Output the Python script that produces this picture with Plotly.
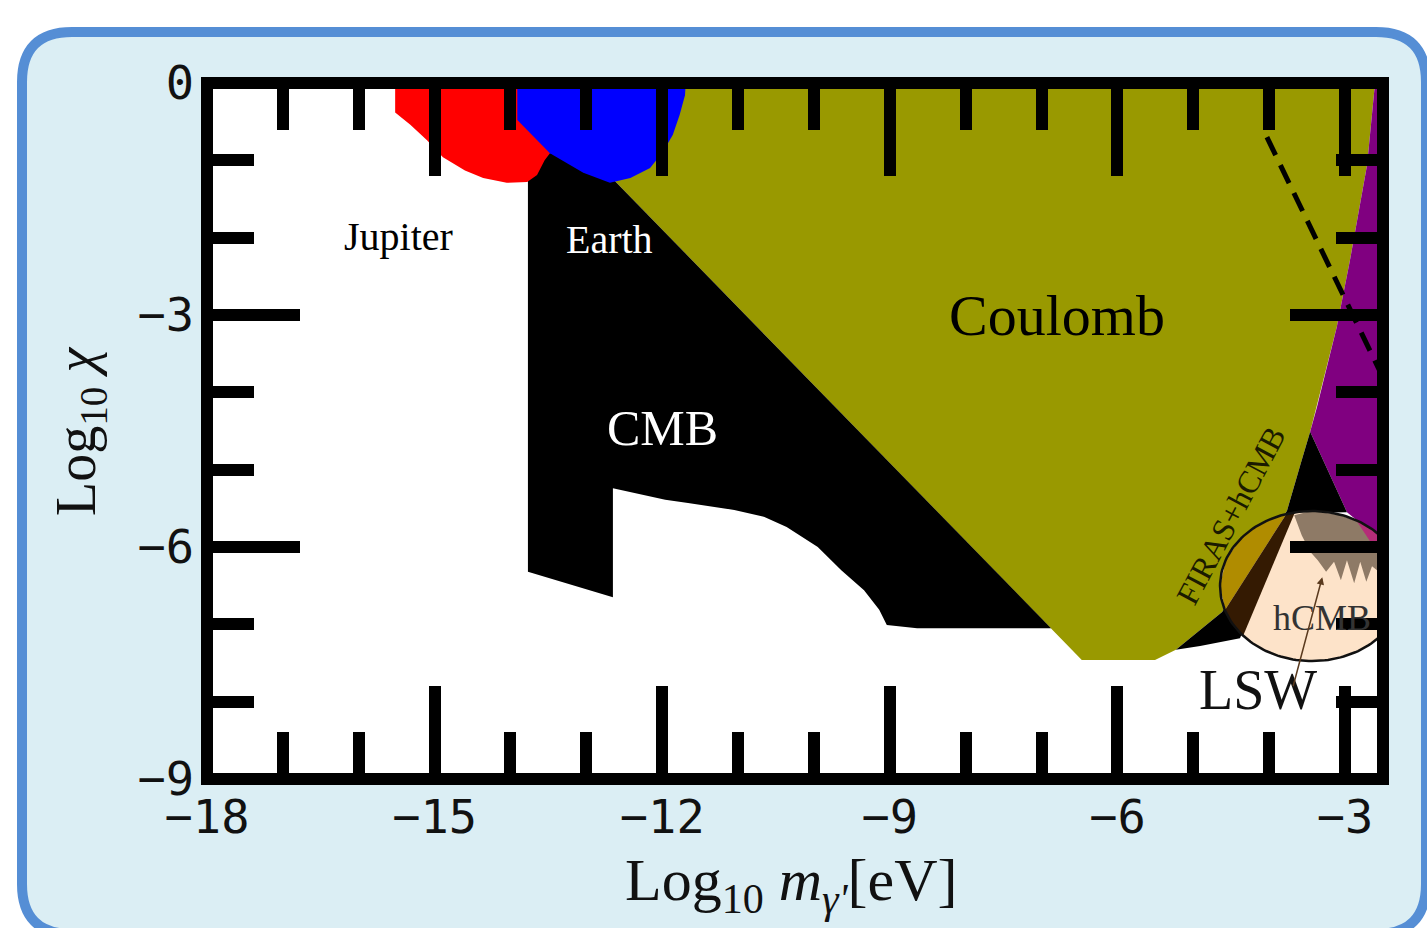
import numpy as np
import plotly.graph_objects as go

# ---------------- data (log10 m [eV], log10 chi) ----------------
jupiter_x = [-15.52, -15.52, -15.32, -15.10, -14.89, -14.60, -14.36, -14.05, -13.78, -13.65, -13.55, -13.45, -13.35, -13.35]
jupiter_y = [0.0, -0.38, -0.54, -0.74, -0.96, -1.13, -1.23, -1.29, -1.28, -1.19, -1.00, -0.87, -0.61, 0.0]

earth_x = [-13.91, -13.91, -13.48, -13.04, -12.69, -12.42, -12.16, -11.99, -11.86, -11.77, -11.70, -11.69]
earth_y = [0.0, -0.48, -0.91, -1.16, -1.29, -1.23, -1.10, -0.89, -0.67, -0.41, -0.16, 0.0]

coulomb_x = [-12.57, -2.605, -2.71, -2.935, -3.11, -3.37, -3.46, -3.59, -3.765, -4.62, -5.23, -5.505, -6.47, -13.02]
coulomb_y = [0.0, 0.0, -1.06, -2.29, -3.16, -4.19, -4.51, -4.94, -5.53, -6.84, -7.33, -7.46, -7.46, -0.87]

cmb_x = [-13.77, -13.02, -6.875, -8.64, -9.04, -9.14, -9.34, -9.64, -9.95, -10.36, -10.66, -11.05, -11.66, -11.96, -12.65, -12.65, -13.77]
cmb_y = [-0.87, -0.87, -7.05, -7.05, -7.01, -6.81, -6.56, -6.30, -6.00, -5.74, -5.61, -5.52, -5.43, -5.39, -5.24, -6.65, -6.32]

purple_x = [-2.605, -2.2, -2.2, -2.975, -3.46, -3.37, -3.11, -2.935, -2.71]
purple_y = [0.0, 0.0, -6.17, -5.55, -4.51, -4.19, -3.16, -2.29, -1.06]

band_x = [-3.46, -2.975, -3.67, -4.385, -4.91, -5.23, -4.62, -3.765, -3.59]
band_y = [-4.51, -5.55, -5.56, -7.18, -7.28, -7.33, -6.84, -5.53, -4.94]

# inset ellipse (centre and half-axes)
ell_cx, ell_cy, ell_rx, ell_ry = -3.435, -6.505, 1.213, 0.970

gold_x = [-3.765, -4.121, -4.385, -4.57, -4.65, -4.58]
gold_y = [-5.56, -5.70, -5.90, -6.17, -6.505, -6.81]

darkband_x = [-3.765, -3.66, -4.345, -4.49, -4.58]
darkband_y = [-5.56, -5.55, -7.15, -6.99, -6.81]

hcmb_x = [-3.67, -3.435, -3.067, -2.80, -2.45, -2.45, -2.645, -2.72, -2.80, -2.88, -2.975, -3.055, -3.145, -3.25, -3.36, -3.46, -3.57]
hcmb_y = [-5.59, -5.53, -5.59, -5.68, -5.90, -6.40, -6.25, -6.45, -6.19, -6.47, -6.17, -6.43, -6.19, -6.32, -6.17, -6.06, -5.85]

magenta_x = [-2.85, -2.45, -2.45]
magenta_y = [-5.66, -5.90, -6.25]

dash_x = [-4.03, -2.5]
dash_y = [-0.70, -3.81]

# axis ticks
x_major = [-18, -15, -12, -9, -6, -3]
y_major = [0, -3, -6, -9]

# ---------------- figure ----------------
fig = go.Figure()


def poly(x, y, color):
    fig.add_trace(go.Scatter(x=x, y=y, mode="lines", fill="toself", fillcolor=color,
                             line=dict(width=0, color=color), hoverinfo="skip", showlegend=False))


poly(coulomb_x, coulomb_y, "#999900")
poly(cmb_x, cmb_y, "#000000")
poly(jupiter_x, jupiter_y, "#ff0000")
poly(earth_x, earth_y, "#0000ff")
poly(purple_x, purple_y, "#800080")
poly(band_x, band_y, "#000000")

t = np.linspace(0, 2 * np.pi, 181)
ex = ell_cx + ell_rx * np.cos(t)
ey = ell_cy + ell_ry * np.sin(t)
poly(list(ex), list(ey), "#fde3c9")
poly(gold_x, gold_y, "#b08c00")
poly(darkband_x, darkband_y, "#341a02")
poly(hcmb_x, hcmb_y, "#8e7a66")
poly(magenta_x, magenta_y, "#b42d78")
fig.add_trace(go.Scatter(x=list(ex), y=list(ey), mode="lines", line=dict(width=2.5, color="#111111"),
                         hoverinfo="skip", showlegend=False))
fig.add_trace(go.Scatter(x=dash_x, y=dash_y, mode="lines", line=dict(width=5, color="black", dash="20px,11px"),
                         hoverinfo="skip", showlegend=False))

# ---------------- layout ----------------
PX0, PX1, PY0, PY1 = 207, 1383, 83, 779


def paper(px, py):
    return (px - PX0) / (PX1 - PX0), (PY1 - py) / (PY1 - PY0)


def pt(px, py):
    a, b = paper(px, py)
    return f"{a:.5f},{b:.5f}"


L, R, T, B, r = 22, 1426, 32, 934, 50
rr_path = (f"M{pt(L + r, T)} L{pt(R - r, T)} Q{pt(R, T)} {pt(R, T + r)} L{pt(R, B - r)} "
           f"Q{pt(R, B)} {pt(R - r, B)} L{pt(L + r, B)} Q{pt(L, B)} {pt(L, B - r)} "
           f"L{pt(L, T + r)} Q{pt(L, T)} {pt(L + r, T)} Z")

shapes = [
    dict(type="path", xref="paper", yref="paper", path=rr_path, fillcolor="#dbeef4",
         line=dict(color="#558ed5", width=10), layer="below"),
    dict(type="rect", xref="paper", yref="paper", x0=0, x1=1, y0=0, y1=1, fillcolor="white",
         line=dict(width=0), layer="below"),
    dict(type="rect", xref="paper", yref="paper", x0=0, x1=1, y0=0, y1=1,
         line=dict(color="black", width=12), layer="above"),
]

serif = "Liberation Serif"
annotations = [
    dict(x=-15.48, y=-1.99, text="Jupiter", font=dict(family=serif, size=40, color="black")),
    dict(x=-12.69, y=-2.03, text="Earth", font=dict(family=serif, size=40, color="white")),
    dict(x=-6.80, y=-3.0, text="Coulomb", font=dict(family=serif, size=58, color="black")),
    dict(x=-12.00, y=-4.46, text="CMB", font=dict(family=serif, size=50, color="white")),
    dict(x=-4.50, y=-5.59, text="FIRAS+hCMB", textangle=-62, font=dict(family=serif, size=32, color="#1a1a00")),
    dict(x=-3.30, y=-6.92, text="hCMB", font=dict(family=serif, size=36, color="#333333")),
    dict(x=-4.15, y=-7.85, text="LSW", font=dict(family=serif, size=56, color="#111111")),
]
for a in annotations:
    a.update(xref="x", yref="y", showarrow=False, xanchor="center", yanchor="middle")

annotations.append(dict(x=-3.30, y=-6.39, ax=-3.69, ay=-7.82, xref="x", yref="y", axref="x", ayref="y",
                        text="", showarrow=True, arrowhead=2, arrowsize=1, arrowwidth=1.5,
                        arrowcolor="#5a3a1e"))

xt_a, yt_a = paper(791, 884)
yx_a, yy_a = paper(80, 432)
annotations.append(dict(x=xt_a, y=yt_a, xref="paper", yref="paper", showarrow=False,
                        xanchor="center", yanchor="middle",
                        text="Log<sub>10</sub> <i>m</i><sub><i>γ'</i></sub>[eV]",
                        font=dict(family=serif, size=60, color="#111111")))
annotations.append(dict(x=yx_a, y=yy_a, xref="paper", yref="paper", showarrow=False, textangle=-90,
                        xanchor="center", yanchor="middle",
                        text="Log<sub>10</sub> <i>χ</i>",
                        font=dict(family=serif, size=56, color="#111111")))

tickfont = dict(family="DejaVu Sans Mono", size=47, color="#111111")
axis_common = dict(showgrid=False, zeroline=False, showline=False, ticks="inside", ticklen=93,
                   tickwidth=12, tickcolor="black", mirror="allticks", tickfont=tickfont,
                   fixedrange=True)

fig.update_layout(
    width=1427, height=928,
    margin=dict(l=PX0, r=1427 - PX1, t=PY0, b=928 - PY1, pad=0),
    paper_bgcolor="white", plot_bgcolor="white",
    xaxis=dict(range=[-18, -2.5], tickmode="array", tickvals=x_major,
               minor=dict(ticks="inside", ticklen=47, tickwidth=12, tickcolor="black", dtick=1, tick0=0,
                          showgrid=False),
               ticklabelstandoff=6, **axis_common),
    yaxis=dict(range=[-9, 0], tickmode="array", tickvals=y_major,
               minor=dict(ticks="inside", ticklen=47, tickwidth=12, tickcolor="black", dtick=1, tick0=0,
                          showgrid=False),
               ticklabelstandoff=12, **axis_common),
    shapes=shapes,
    annotations=annotations,
    showlegend=False,
)

fig.write_html("out.html")
